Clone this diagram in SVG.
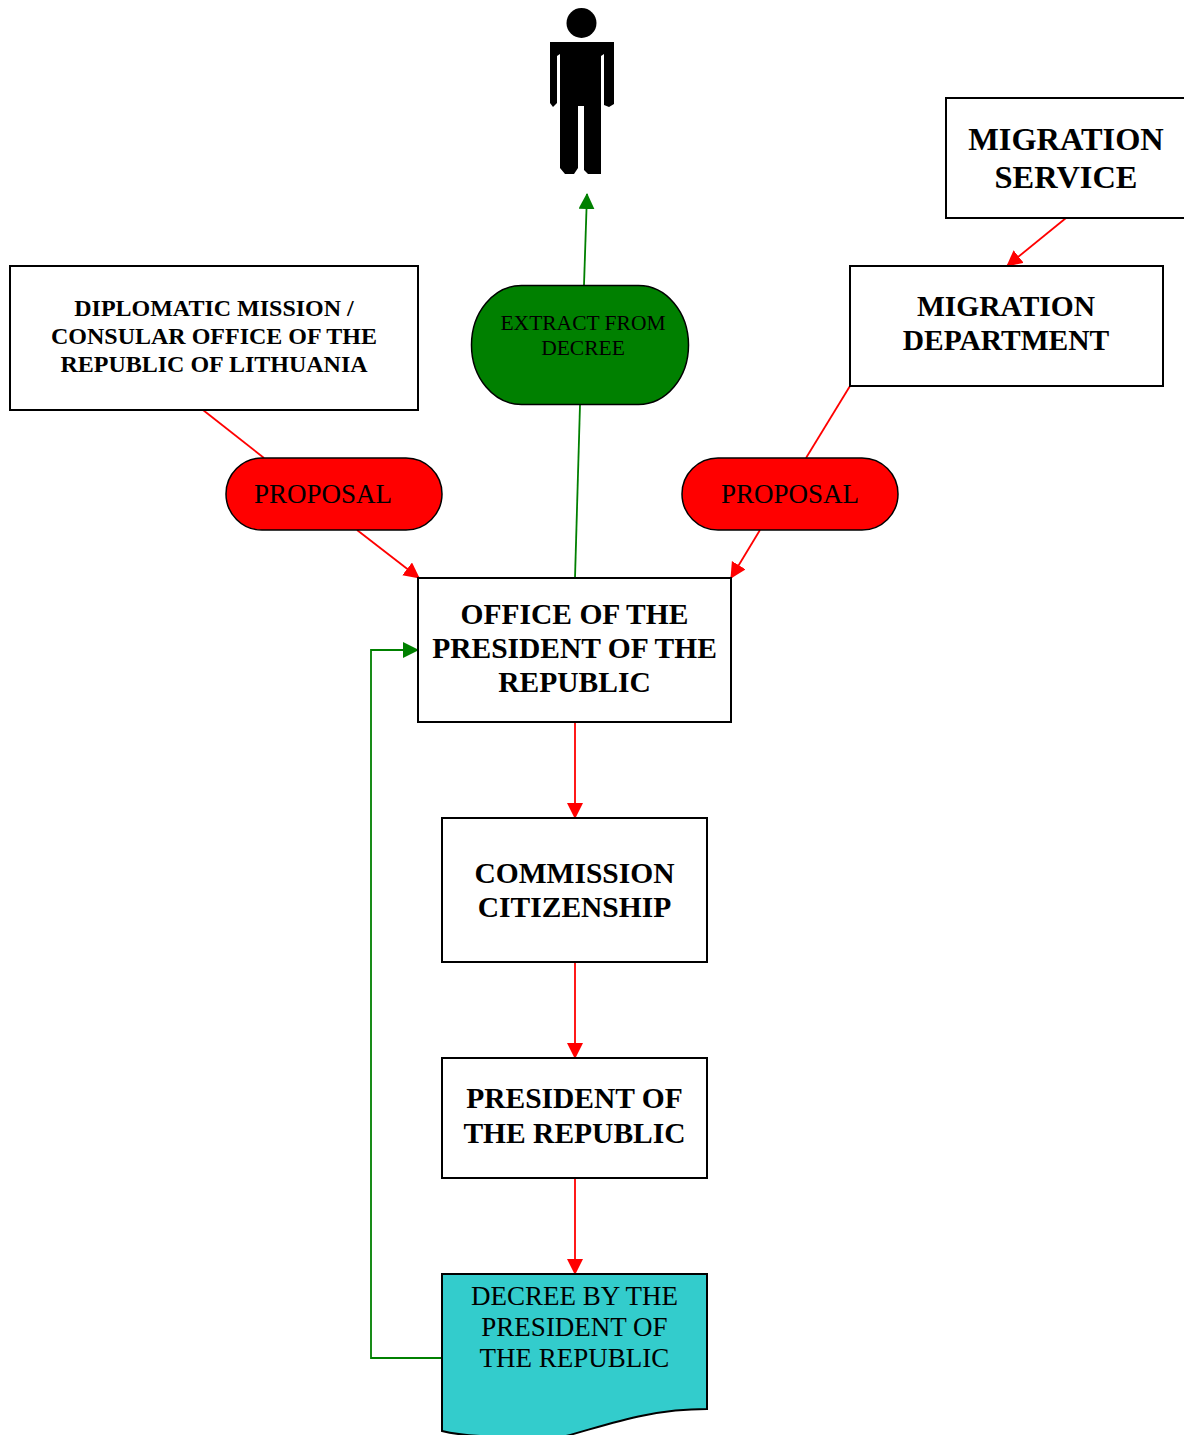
<svg xmlns="http://www.w3.org/2000/svg" width="1184" height="1435" viewBox="0 0 1184 1435">
<style>
.b{fill:#fff;stroke:#000;stroke-width:2}
.r{fill:#f00;stroke:#000;stroke-width:1.5}
.t{font-family:"Liberation Serif",serif;text-anchor:middle;fill:#000}
.h{font-weight:bold}
.cr{fill:none;stroke:#f00;stroke-width:1.8}
.cg{fill:none;stroke:#008000;stroke-width:1.8}
</style>
<defs>
<marker id="ar" markerUnits="userSpaceOnUse" markerWidth="16" markerHeight="18" refX="15" refY="8" orient="auto"><path d="M0 0L16 8L0 16Z" fill="#f00"/></marker>
<marker id="ag" markerUnits="userSpaceOnUse" markerWidth="16" markerHeight="18" refX="15" refY="8" orient="auto"><path d="M0 0L16 8L0 16Z" fill="#008000"/></marker>
</defs>
<g id="connectors">
<path class="cr" d="M1066 218L1007 266" marker-end="url(#ar)"/>
<path class="cr" d="M203 410L264 458"/>
<path class="cr" d="M357 530L419 578" marker-end="url(#ar)"/>
<path class="cr" d="M850 386L806 458"/>
<path class="cr" d="M760 530L731 578" marker-end="url(#ar)"/>
<path class="cr" d="M575 722V818" marker-end="url(#ar)"/>
<path class="cr" d="M575 962V1058" marker-end="url(#ar)"/>
<path class="cr" d="M575 1178V1274" marker-end="url(#ar)"/>
<path class="cg" d="M575 578L580 405"/>
<path class="cg" d="M584 285L587 194" marker-end="url(#ag)"/>
<path class="cg" d="M442 1358H371V650H418" marker-end="url(#ag)"/>
</g>
<g id="person"><circle cx="581.500" cy="23" r="15" fill="#000"/><path d="M550 42H614V104L609 107L604 105V54L601 56V174H588L584 170V106H578V168L574 174H565L560 168V54L557 56V103L553 107L550 103Z" fill="#000"/></g>
<g id="migration-service"><rect class="b" x="946" y="98" width="240" height="120"/><text class="t h" font-size="32.400"><tspan x="1066" y="150">MIGRATION</tspan><tspan x="1066" y="188">SERVICE</tspan></text></g>
<g id="migration-department"><rect class="b" x="850" y="266" width="313" height="120"/><text class="t h" font-size="29.500"><tspan x="1006" y="316">MIGRATION</tspan><tspan x="1006" y="350">DEPARTMENT</tspan></text></g>
<g id="diplomatic-mission"><rect class="b" x="10" y="266" width="408" height="144"/><text class="t h" font-size="24"><tspan x="214" y="316">DIPLOMATIC MISSION /</tspan><tspan x="214" y="344">CONSULAR OFFICE OF THE</tspan><tspan x="214" y="372">REPUBLIC OF LITHUANIA</tspan></text></g>
<g id="extract"><rect x="471.500" y="285.500" width="217" height="119" rx="50" ry="59.500" fill="#008000" stroke="#000" stroke-width="1.500"/><text class="t" font-size="21.500"><tspan x="583" y="330">EXTRACT FROM</tspan><tspan x="583" y="355">DECREE</tspan></text></g>
<g id="proposal-left"><rect class="r" x="226" y="458" width="216" height="72" rx="36"/><text class="t" x="323" y="503" font-size="27">PROPOSAL</text></g>
<g id="proposal-right"><rect class="r" x="682" y="458" width="216" height="72" rx="36"/><text class="t" x="790" y="503" font-size="27">PROPOSAL</text></g>
<g id="office"><rect class="b" x="418" y="578" width="313" height="144"/><text class="t h" font-size="29.500"><tspan x="574.500" y="624">OFFICE OF THE</tspan><tspan x="574.500" y="658">PRESIDENT OF THE</tspan><tspan x="574.500" y="692">REPUBLIC</tspan></text></g>
<g id="commission"><rect class="b" x="442" y="818" width="265" height="144"/><text class="t h" font-size="29.500"><tspan x="574.500" y="883">COMMISSION</tspan><tspan x="574.500" y="917">CITIZENSHIP</tspan></text></g>
<g id="president"><rect class="b" x="442" y="1058" width="265" height="120"/><text class="t h" font-size="29.500"><tspan x="574.500" y="1108">PRESIDENT OF</tspan><tspan x="574.500" y="1143">THE REPUBLIC</tspan></text></g>
<g id="decree"><path d="M442 1274H707V1409C650 1409 610 1424 566 1436H480C462 1435 450 1433 442 1431Z" fill="#3cc" stroke="#000" stroke-width="2"/><text class="t" font-size="27"><tspan x="574.500" y="1305">DECREE BY THE</tspan><tspan x="574.500" y="1336">PRESIDENT OF</tspan><tspan x="574.500" y="1367">THE REPUBLIC</tspan></text></g>
</svg>
